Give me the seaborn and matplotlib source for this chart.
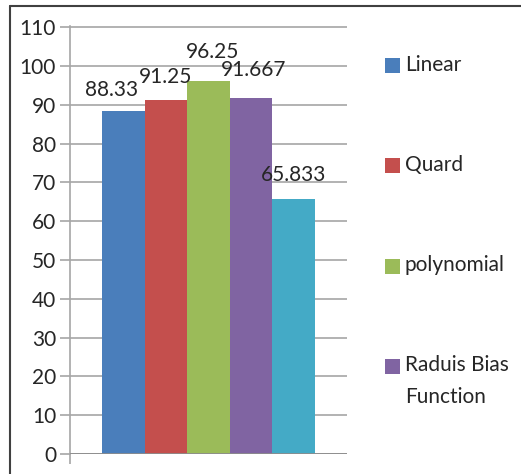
import matplotlib
matplotlib.use("Agg")
import matplotlib.pyplot as plt
from matplotlib.patches import Rectangle
from matplotlib.lines import Line2D
import seaborn as sns
import pandas as pd

# dados
METHODS = ["Linear", "Quard", "polynomial", "Raduis Bias\nFunction", "MLP"]
ACCURACY = [88.33, 91.25, 96.25, 91.667, 65.833]
VALUE_LABELS = ["88.33", "91.25", "96.25", "91.667", "65.833"]
LEGEND_NAMES = METHODS[:4]  # a quinta série não aparece na legenda
Y_TICKS = list(range(0, 111, 10))

COLORS = ["#4a7ebb", "#c44f4d", "#9bbb59", "#8064a2", "#44aac6"]
GRID_GRAY = "#a6a6a6"
TEXT_COLOR = "#262626"
FS = 15
# deslocamento dos rótulos (pt), como o Excel evita sobreposição
LABEL_DX = [-8.5, 0, 3, 2, 0]
LABEL_PAD = [8, 9.5, 13, 13, 10]

sns.set_style("white")
plt.rcParams["font.family"] = ["Lato", "DejaVu Sans"]

df = pd.DataFrame({"grupo": [""] * len(METHODS), "metodo": METHODS, "acc": ACCURACY})

fig = plt.figure(figsize=(5.21, 4.74), dpi=100)
ax = fig.add_axes([70 / 521, 20 / 474, 277 / 521, 428 / 474])

sns.barplot(
    data=df, x="grupo", y="acc", hue="metodo", hue_order=METHODS,
    palette=COLORS, width=0.77, gap=0, saturation=1, legend=False,
    linewidth=0, edgecolor="none", ax=ax,
)

# rótulos de valor acima das barras
for cont, txt, dx, pad in zip(ax.containers, VALUE_LABELS, LABEL_DX, LABEL_PAD):
    anns = ax.bar_label(cont, labels=[txt], padding=pad, fontsize=FS, color=TEXT_COLOR)
    for a in anns:
        a.xyann = (dx, pad)

ax.set_ylim(0, 110.3)
ax.set_xlim(-0.5, 0.5)
ax.set_yticks(Y_TICKS)
ax.set_yticklabels([str(t) for t in Y_TICKS], fontsize=FS, color=TEXT_COLOR)
ax.set_xticks([-0.5])
ax.set_xticklabels([""])
ax.set_xlabel("")
ax.set_ylabel("")
ax.grid(axis="y", color=GRID_GRAY, linewidth=1.2)
ax.set_axisbelow(True)
for side in ["top", "right", "bottom"]:
    ax.spines[side].set_visible(False)
ax.spines["left"].set_color(GRID_GRAY)
ax.spines["left"].set_linewidth(1.2)
ax.axhline(0, color="#8c8c8c", linewidth=2, zorder=3)
ax.tick_params(axis="y", length=7, width=1.2, color=GRID_GRAY, pad=3, left=True)
ax.tick_params(axis="x", length=7, width=1.2, color=GRID_GRAY, bottom=True)

# legenda manual (estilo Excel, entradas espaçadas)
for i, (name, color) in enumerate(zip(LEGEND_NAMES, COLORS)):
    yc = 1 - (66 + 100 * i) / 474
    fig.patches.append(Rectangle((385 / 521, yc - 7.5 / 474), 15 / 521, 15 / 474,
                                 transform=fig.transFigure, facecolor=color,
                                 edgecolor="none"))
    fig.text(405 / 521, yc + 11 / 474, name, fontsize=FS, color=TEXT_COLOR,
             va="top", ha="left", linespacing=1.75)

# moldura da área do gráfico
fig.lines.append(Line2D([10 / 521, 10 / 521], [0, 1 - 6 / 474], transform=fig.transFigure,
                        color="#404040", linewidth=1.5))
fig.lines.append(Line2D([10 / 521, 1], [1 - 6 / 474, 1 - 6 / 474], transform=fig.transFigure,
                        color="#404040", linewidth=1.5))

fig.savefig("out.png", dpi=100)
